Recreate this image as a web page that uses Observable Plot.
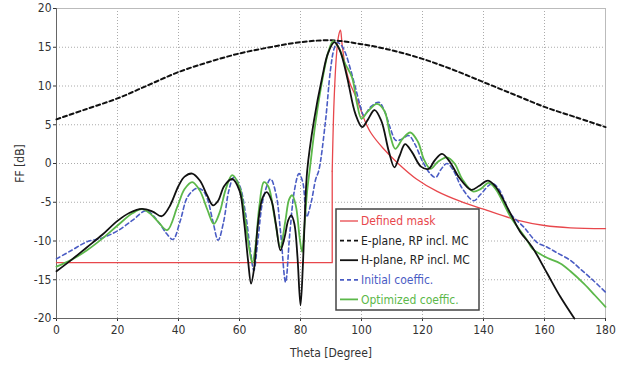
<!DOCTYPE html>
<html>
<head>
<meta charset="utf-8">
<script src="https://cdn.jsdelivr.net/npm/d3@7"></script>
<script src="https://cdn.jsdelivr.net/npm/@observablehq/plot@0.6"></script>
<style>
  html, body { margin: 0; padding: 0; background: #fff; }
  #chart { position: relative; width: 636px; height: 365px; }
</style>
</head>
<body>
<div id="chart"></div>
<script>
// ---- data ----
const xTicks = [0, 20, 40, 60, 80, 100, 120, 140, 160, 180];
const yTicks = [-20, -15, -10, -5, 0, 5, 10, 15, 20];

const maskTheta = [0, 90.4, 90.4, 91, 91.8, 92.5, 93.1, 93.6, 94.5, 96, 98.6, 101, 103, 107, 112, 118, 124.8, 132.5, 140, 151, 160, 168.5, 180];
const maskVal   = [-12.8, -12.8, -1, 8, 14, 16.5, 17.2, 15.5, 13, 10.6, 8.2, 5.6, 4.0, 2.0, 0.0, -2.0, -3.6, -4.9, -5.9, -7.3, -8.0, -8.3, -8.4];

const eTheta = [0, 10, 20, 30, 40, 50, 60, 70, 80, 90, 100, 110, 120, 130, 140, 150, 160, 170, 180];
const eVal   = [5.7, 7.05, 8.4, 10.1, 11.8, 13.1, 14.2, 15.0, 15.65, 15.9, 15.4, 14.6, 13.5, 12.1, 10.5, 8.9, 7.3, 6.0, 4.7];

const hTheta = [0, 5, 10, 15, 20, 24, 28, 31.5, 34.5, 37, 40, 42, 44.5, 47, 49.5, 51.3, 53, 55, 57.6, 60, 61.5, 62.8, 63.8, 64.8, 66, 67.5, 68.9, 70.5, 72, 73.4, 74.8, 76, 77, 78, 79, 80, 80.8, 81.5, 82.2, 84.4, 87.1, 89, 91.1, 93, 95.3, 98, 100.2, 102, 104.3, 106.5, 109, 110.8, 112.5, 114.3, 116.5, 119.5, 122, 124, 126.4, 129, 132, 136, 138.5, 141.5, 144, 148.9, 152, 156, 160.9, 165.2, 169.8];
const hVal   = [-13.9, -12.4, -10.8, -9.2, -7.4, -6.35, -5.85, -6.2, -6.8, -5.6, -2.9, -1.7, -1.3, -2.2, -4.2, -5.4, -4.8, -2.9, -2.0, -3.5, -7.5, -12.5, -15.5, -13.5, -8, -4.5, -3.7, -4.8, -8, -11.2, -9.5, -7.3, -6.7, -7.8, -12, -18.3, -13, -6, -0.9, 5.5, 11.1, 14.2, 15.65, 14.5, 11.1, 6.4, 4.7, 5.6, 6.9, 5.5, 1.5, -0.5, 1.0, 2.5, 1.5, -0.4, -0.7, 0.4, 1.25, 0.2, -1.8, -3.4, -2.9, -2.2, -3.0, -6.5, -8.8, -10.8, -14.2, -17.2, -20];

const iTheta = [0, 5, 10, 15, 20, 25, 29.5, 33.5, 36, 38.2, 40.5, 43, 46, 48, 49.5, 51.3, 53, 54.8, 56.5, 58.1, 60, 62, 63.5, 64.7, 66, 67.8, 70.2, 72, 73.5, 75.1, 76.5, 78, 79.5, 80.8, 82, 83.5, 85, 86, 88.2, 89.8, 91, 92, 93.5, 94.8, 96.5, 98, 99.7, 100.8, 103, 105.7, 107.5, 109.5, 111.2, 113, 115.5, 117.5, 120, 122.5, 124.3, 126, 128, 130, 133, 136.8, 139, 142.8, 145, 148.9, 153.2, 157.6, 160.9, 164, 168.5, 172, 176, 180];
const iVal   = [-12.3, -11.2, -10.1, -9.6, -8.7, -7.3, -6.1, -7.6, -9.0, -9.8, -7.5, -4.3, -3.2, -3.5, -4.6, -7.5, -9.9, -7.5, -3.5, -1.8, -2.8, -6.5, -11, -13.8, -10, -4.5, -2.0, -4, -9, -15.3, -9, -3.5, -1.3, -2.5, -6.9, -5, -2, -0.9, 5.5, 12, 14.8, 15.6, 15.2, 14.2, 12, 9.8, 7.3, 6.2, 7.3, 7.9, 6.8, 4.5, 3.0, 3.1, 3.6, 2.5, 0.3, -1.3, -1.8, -0.8, 0, -0.8, -3.2, -4.8, -4.0, -2.6, -3.3, -6.5, -8.2, -10.2, -10.8, -11.5, -12.5, -13.7, -15.1, -16.6];

const oTheta = [0, 5, 10, 15, 20, 25, 28, 30.8, 33.5, 36.3, 39.6, 42, 44.5, 47, 49.5, 51.6, 53.5, 55.5, 57.6, 60, 61.8, 63.2, 64.2, 65.3, 66.5, 68, 69.5, 71.5, 73.4, 75, 76.3, 77.3, 78.5, 79.7, 80.5, 81.3, 82.2, 83, 85, 87.5, 89.2, 90.7, 92.5, 94.5, 96.9, 98.5, 100, 102, 105.1, 107.5, 109.5, 111.1, 113.5, 116, 118.5, 120.5, 122.6, 125, 128, 130.5, 133, 136.5, 139, 141.7, 144, 148.9, 154.3, 156, 158.7, 161, 165.2, 168.5, 172.9, 176.5, 180];
const oVal   = [-13.3, -12.4, -11.2, -9.7, -8.0, -6.4, -5.9, -6.5, -7.6, -8.6, -5.6, -3.3, -2.4, -3.5, -6, -7.8, -6.3, -3.3, -1.5, -3.0, -7, -11, -12.8, -10.5, -5.5, -2.4, -3, -7, -10.8, -7.5, -4.6, -4.1, -5.5, -9.5, -11.4, -8, -3.5, -0.9, 5.5, 11.5, 14.5, 15.8, 15, 13, 11.1, 7.8, 5.8, 6.7, 7.7, 6.8, 3.5, 1.9, 3.2, 4.0, 2.8, 0.5, -0.7, 0.2, 0.8, 0, -2.0, -3.6, -3.3, -2.5, -3.3, -6.9, -9.9, -11.0, -11.7, -12.2, -12.9, -13.9, -15.5, -17, -18.5];

const seriesNames = ["Defined mask", "E-plane, RP incl. MC", "H-plane, RP incl. MC", "Initial coeffic.", "Optimized coeffic."];
const seriesColors = ["#e8474c", "#111111", "#111111", "#4a5cc4", "#5cb84a"];
const seriesDash = [null, "4,3", null, "4,3", null];

// ---- tables ----
const toRows = (t, v) => t.map((x, i) => ({theta: x, ff: v[i], i}));
const mask = toRows(maskTheta, maskVal);
const eplane = toRows(eTheta, eVal);
const hplane = toRows(hTheta, hVal);
const initial = toRows(iTheta, iVal);
const optimized = toRows(oTheta, oVal);

const FONT = "'DejaVu Sans Condensed', 'DejaVu Sans', sans-serif";

const plot = Plot.plot({
  width: 636,
  height: 365,
  marginLeft: 56,
  marginRight: 31,
  marginTop: 8,
  marginBottom: 47,
  style: {fontFamily: FONT, fontSize: "12px", color: "#333", background: "#fff"},
  x: {domain: [0, 180], ticks: xTicks, tickFormat: d => String(d), label: "Theta [Degree]", labelAnchor: "center", labelArrow: "none", tickSize: 3},
  y: {domain: [-20, 20], ticks: yTicks, tickFormat: d => String(d), label: "FF [dB]", labelAnchor: "center", labelArrow: "none", tickSize: 3},
  marks: [
    Plot.gridX(xTicks, {stroke: "#888", strokeOpacity: 0.7, strokeDasharray: "1,2"}),
    Plot.gridY(yTicks, {stroke: "#888", strokeOpacity: 0.7, strokeDasharray: "1,2"}),
    Plot.frame({stroke: "#bbb"}),
    Plot.axisX({ticks: xTicks, tickFormat: d => String(d), tickSize: 3, tickPadding: 4, label: "Theta [Degree]", labelAnchor: "center", labelArrow: "none", labelOffset: 38, fill: "#333", fontSize: 12}),
    Plot.axisY({ticks: yTicks, tickFormat: d => String(d), tickSize: 3, tickPadding: 2, label: "FF [dB]", labelAnchor: "center", labelArrow: "none", labelOffset: 41, fill: "#333", fontSize: 12}),
    Plot.ruleX([0], {stroke: "#666"}),
    Plot.ruleY([-20], {stroke: "#666"}),
    Plot.line(mask.filter(d => d.i <= 2), {x: "theta", y: "ff", stroke: seriesColors[0], strokeWidth: 1.3, curve: "linear"}),
    Plot.line(mask.filter(d => d.i >= 2), {x: "theta", y: "ff", stroke: seriesColors[0], strokeWidth: 1.3, curve: "catmull-rom"}),
    Plot.line(eplane, {x: "theta", y: "ff", stroke: seriesColors[1], strokeWidth: 2, strokeDasharray: seriesDash[1], curve: "catmull-rom"}),
    Plot.line(initial, {x: "theta", y: "ff", stroke: seriesColors[3], strokeWidth: 1.6, strokeDasharray: seriesDash[3], curve: "catmull-rom"}),
    Plot.line(optimized, {x: "theta", y: "ff", stroke: seriesColors[4], strokeWidth: 1.8, curve: "catmull-rom"}),
    Plot.line(hplane, {x: "theta", y: "ff", stroke: seriesColors[2], strokeWidth: 1.8, curve: "catmull-rom"})
  ]
});

document.getElementById("chart").appendChild(plot);

// ---- legend inside the plot area ----
const svg = d3.select(plot);
const lg = svg.append("g").attr("transform", "translate(336,209)").attr("text-anchor", "start");
lg.append("rect").attr("x", 0).attr("y", 0).attr("width", 143).attr("height", 101)
  .attr("fill", "#fff").attr("stroke", "#444").attr("stroke-width", 1.5);
seriesNames.forEach((name, k) => {
  const yy = 12 + k * 19.6;
  lg.append("line").attr("x1", 4).attr("x2", 22).attr("y1", yy).attr("y2", yy)
    .attr("stroke", seriesColors[k]).attr("stroke-width", k === 0 ? 1.3 : 1.8)
    .attr("stroke-dasharray", seriesDash[k]);
  lg.append("text").attr("x", 25).attr("y", yy).attr("dy", "0.35em")
    .attr("text-anchor", "start")
    .attr("fill", seriesColors[k] === "#111111" ? "#222" : seriesColors[k])
    .style("font-family", FONT).style("font-size", "12px").text(name);
});
</script>
</body>
</html>
